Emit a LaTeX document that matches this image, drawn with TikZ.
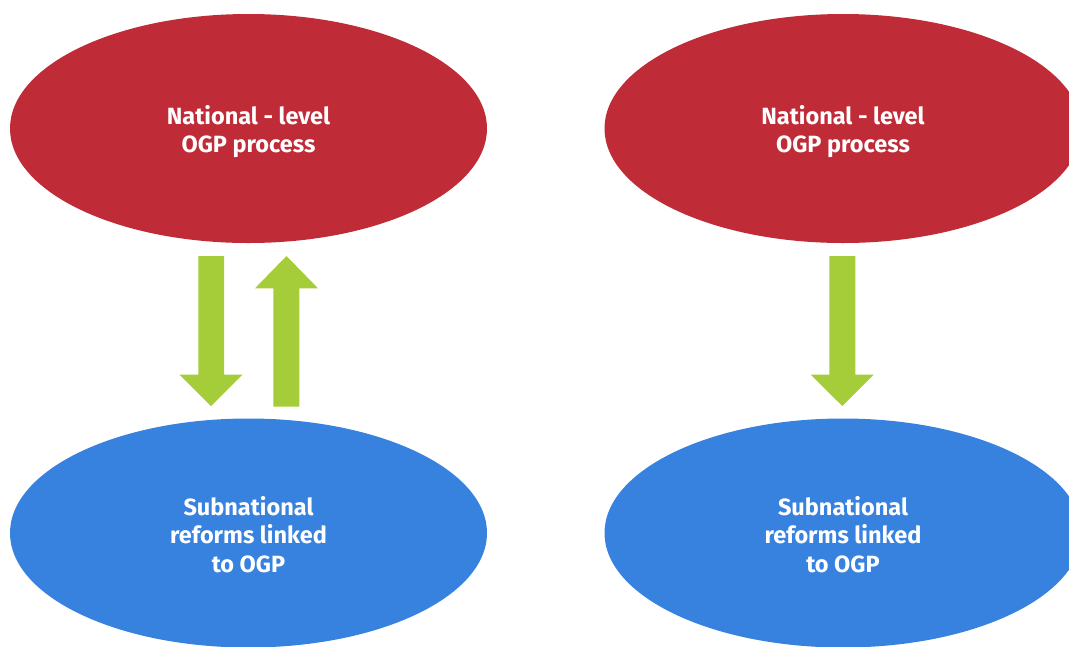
\documentclass[tikz,border=0pt]{standalone}
\usepackage{fontspec}
\setmainfont{Fira Sans}
\usetikzlibrary{shapes.geometric}
\definecolor{ogpred}{HTML}{BF2B37}
\definecolor{ogpblue}{HTML}{3781DF}
\definecolor{ogpgreen}{HTML}{A5CD39}
\tikzset{
  blob/.style={ellipse, minimum width=477pt, minimum height=229pt, inner sep=0pt},
  nat/.style={blob, fill=ogpred},
  sub/.style={blob, fill=ogpblue},
  lbl/.style={text=white, align=center, font=\fontsize{23.5}{28.6}\selectfont\bfseries},
  blockarrow/.style={fill=ogpgreen, draw=none}
}
\begin{document}
\begin{tikzpicture}[x=1pt,y=-1pt]
\useasboundingbox (0,0) rectangle (1069,646);
\clip (0,0) rectangle (1069,646);
\node[nat] (natL) at (248.5,128.5) {};
\node[nat] (natR) at (843,128.5) {};
\node[sub] (subL) at (248.5,533) {};
\node[sub] (subR) at (843,533) {};
\node[lbl] (natLt) at ([yshift=-3pt]natL.center) {National - level\\OGP process};
\node[lbl] (natRt) at ([yshift=-3pt]natR.center) {National - level\\OGP process};
\node[lbl] (subLt) at ([yshift=-1.5pt]subL.center) {Subnational\\reforms linked\\to OGP};
\node[lbl] (subRt) at ([yshift=-1.5pt]subR.center) {Subnational\\reforms linked\\to OGP};
% left down arrow
\fill[blockarrow] (198.3,256) -- (224,256) -- (224,374.5) -- (242.7,374.5) -- (211,406)
  -- (179.3,374.5) -- (198.3,374.5) -- cycle;
% left up arrow
\fill[blockarrow] (273.3,406.7) -- (299.3,406.7) -- (299.3,288.3) -- (318,288.3) -- (286.5,256)
  -- (255,288.3) -- (273.3,288.3) -- cycle;
% right down arrow
\fill[blockarrow] (829.3,256) -- (855.3,256) -- (855.3,374.7) -- (873.7,374.7) -- (842.3,406)
  -- (810.7,374.7) -- (829.3,374.7) -- cycle;
\end{tikzpicture}
\end{document}
